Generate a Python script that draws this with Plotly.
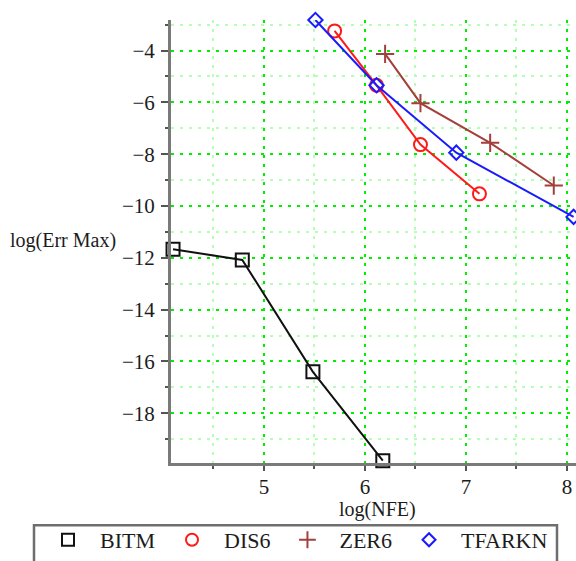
import plotly.graph_objects as go

# log(NFE) vs log(max error) for four integrators
bitm_x = [4.10, 4.786, 5.485, 6.177]
bitm_y = [-11.67, -12.08, -16.40, -19.83]

dis6_x = [5.70, 6.115, 6.55, 7.134]
dis6_y = [-3.24, -5.34, -7.63, -9.53]

zer6_x = [6.20, 6.55, 7.24, 7.87]
zer6_y = [-4.13, -6.03, -7.56, -9.21]

tfarkn_x = [5.51, 6.115, 6.905, 8.066]
tfarkn_y = [-2.82, -5.34, -7.94, -10.42]

names = ["BITM", "DIS6", "ZER6", "TFARKN"]
xs = [bitm_x, dis6_x, zer6_x, tfarkn_x]
ys = [bitm_y, dis6_y, zer6_y, tfarkn_y]
colors = ["#111111", "#ff1a1a", "#a3403c", "#1a1aff"]
symbols = ["square-open", "circle-open", "cross-thin-open", "diamond-open"]
sizes = [13, 13, 13, 11]

x_range = [4.08, 8.09]
y_range = [-19.92, -2.82]

# plot-area geometry in pixels
W, H = 576, 561
ML, MR, MT, MB = 171, 0, 20, 92
PW, PH = W - ML - MR, H - MT - MB


def px_to_paper(px, py):
    return (px - ML) / PW, (H - MB - py) / PH


FONT = "Liberation Serif"
TXT = "#1c1c1c"
fig = go.Figure()

for name, x, y, c, s, sz in zip(names, xs, ys, colors, symbols, sizes):
    fig.add_trace(go.Scatter(
        x=x, y=y, mode="lines+markers", name=name, showlegend=False,
        line=dict(color=c, width=2),
        marker=dict(symbol=s, size=sz, color=c, line=dict(color=c, width=2)),
        cliponaxis=False,
    ))
    # marker-only legend entry
    fig.add_trace(go.Scatter(
        x=[None], y=[None], mode="markers", name=name,
        marker=dict(symbol=s, size=sz - 1, color=c, line=dict(color=c, width=2)),
    ))

axis_common = dict(
    showline=True, linecolor="#7a7a7a", linewidth=3,
    ticks="outside", tickwidth=2, tickcolor="#555555",
    tickfont=dict(family=FONT, size=21, color=TXT),
    showgrid=True, gridcolor="#00ee00", gridwidth=1.5, griddash="3px,6px",
    zeroline=False, automargin=False,
)
minor_common = dict(ticks="outside", ticklen=3, tickwidth=2, tickcolor="#555555",
                    showgrid=True, gridcolor="#b5ffb5", gridwidth=1.5,
                    griddash="3px,6px")

fig.update_xaxes(
    range=x_range, tickvals=[5, 6, 7, 8], ticklen=5, **axis_common,
    ticklabelstandoff=-2,
    minor=dict(tickvals=[4.5, 5.5, 6.5, 7.5], **minor_common),
)
fig.update_yaxes(
    range=y_range, tickvals=[-18, -16, -14, -12, -10, -8, -6, -4], ticklen=7,
    **axis_common, ticklabelstandoff=2,
    minor=dict(tickvals=[-19, -17, -15, -13, -11, -9, -7, -5, -3], **minor_common),
)

lx, ly = px_to_paper(36, 547)
bx0, by0 = px_to_paper(34, 532)
bx1, by1 = px_to_paper(557, 575)
tx, ty = px_to_paper(63, 243)
nx, ny = px_to_paper(377, 516)

fig.update_layout(
    width=W, height=H,
    margin=dict(l=ML, r=MR, t=MT, b=MB),
    paper_bgcolor="white", plot_bgcolor="white",
    font=dict(family=FONT, size=20, color=TXT),
    legend=dict(
        orientation="h", x=lx, y=ly, xanchor="left", yanchor="middle",
        itemwidth=54, font=dict(family=FONT, size=22, color=TXT),
        bgcolor="rgba(0,0,0,0)", borderwidth=0,
    ),
    shapes=[dict(type="rect", xref="paper", yref="paper",
                 x0=bx0, x1=bx1, y0=by0, y1=by1,
                 line=dict(color="#6e6e6e", width=2.5))],
    annotations=[
        dict(text="log(Err Max)", xref="paper", yref="paper", x=tx, y=ty,
             xanchor="center", yanchor="middle", showarrow=False,
             font=dict(family=FONT, size=20, color=TXT)),
        dict(text="log(NFE)", xref="paper", yref="paper", x=nx, y=ny,
             xanchor="center", yanchor="middle", showarrow=False,
             font=dict(family=FONT, size=20, color=TXT)),
    ],
)

fig.write_html("out.html")
